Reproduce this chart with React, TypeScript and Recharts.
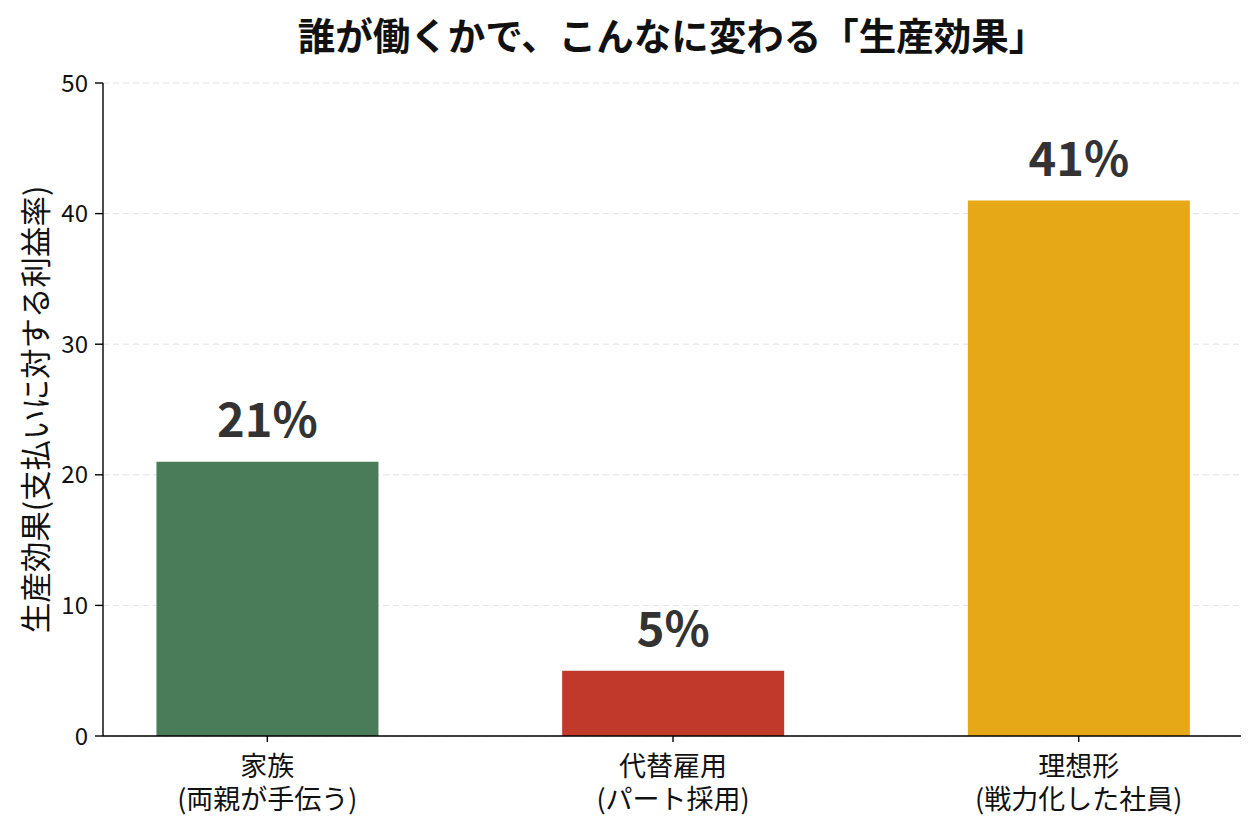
import { BarChart, Bar, XAxis, YAxis, CartesianGrid, Cell, LabelList, Label } from 'recharts';

const categories = ['家族', '代替雇用', '理想形'];
const subLabels = ['(両親が手伝う)', '(パート採用)', '(戦力化した社員)'];
const effects = [21, 5, 41];
const barColors = ['#4a7c59', '#c0392b', '#e6a817'];
const yTicks = [0, 10, 20, 30, 40, 50];

const FONT = '"Noto Sans CJK JP", "Noto Sans", sans-serif';

const data = categories.map((c, i) => ({ pos: i, name: c, sub: subLabels[i], value: effects[i] }));

const CategoryTick = ({ x, y, payload }: { x?: number; y?: number; payload?: { value: number } }) => {
  const i = payload ? payload.value : 0;
  return (
    <g transform={`translate(${x},${y})`}>
      <text x={0} y={32} textAnchor="middle" fontFamily={FONT} fontSize={27} fill="#111">
        {categories[i]}
      </text>
      <text x={0} y={65} textAnchor="middle" fontFamily={FONT} fontSize={27} fill="#111">
        {subLabels[i]}
      </text>
    </g>
  );
};

const ValueLabel = (props: { x?: number; y?: number; width?: number; value?: number }) => {
  const { x = 0, y = 0, width = 0, value } = props;
  return (
    <text x={x + width / 2} y={y - 25} textAnchor="middle" fontFamily={FONT} fontSize={47} fontWeight={700} fill="#333">
      {value}%
    </text>
  );
};

export default function App() {
  return (
    <div style={{ position: 'absolute', left: 0, top: 0, width: 1258, height: 834, background: '#fff', fontFamily: FONT }}>
      <div
        style={{
          position: 'absolute',
          left: 103,
          width: 1138,
          top: 8,
          textAlign: 'center',
          fontSize: 37.5,
          fontWeight: 700,
          color: '#111',
          lineHeight: '52px',
          whiteSpace: 'nowrap',
        }}
      >
        誰が働くかで、こんなに変わる「生産効果」
      </div>
      <BarChart width={1258} height={834} data={data} margin={{ top: 83, right: 17, bottom: 0, left: 0 }}>
        <CartesianGrid vertical={false} stroke="#e2e2e2" strokeDasharray="6 4" />
        <XAxis
          dataKey="pos"
          type="number"
          domain={[-0.405, 2.4]}
          ticks={[0, 1, 2]}
          allowDataOverflow
          height={98}
          tick={<CategoryTick />}
          tickSize={6}
          axisLine={{ stroke: '#000', strokeWidth: 1.4 }}
          tickLine={{ stroke: '#000', strokeWidth: 1.4 }}
          interval={0}
        />
        <YAxis
          type="number"
          domain={[0, 50]}
          ticks={yTicks}
          width={103}
          tickSize={8}
          axisLine={{ stroke: '#000', strokeWidth: 1.4 }}
          tickLine={{ stroke: '#000', strokeWidth: 1.4 }}
          tick={{ fontSize: 24, fill: '#111', fontFamily: FONT, dx: -5 }}
        >
          <Label
            content={({ viewBox }: any) => {
              const cy = viewBox.y + viewBox.height / 2;
              return (
                <text
                  x={34}
                  y={cy}
                  transform={`rotate(-90, 34, ${cy})`}
                  textAnchor="middle"
                  dominantBaseline="central"
                  fontFamily={FONT}
                  fontSize={30.5}
                  fill="#111"
                >
                  生産効果(支払いに対する利益率)
                </text>
              );
            }}
          />
        </YAxis>
        <Bar dataKey="value" barSize={222} isAnimationActive={false}>
          {data.map((d, i) => (
            <Cell key={d.name} fill={barColors[i]} />
          ))}
          <LabelList dataKey="value" content={<ValueLabel />} />
        </Bar>
      </BarChart>
    </div>
  );
}
